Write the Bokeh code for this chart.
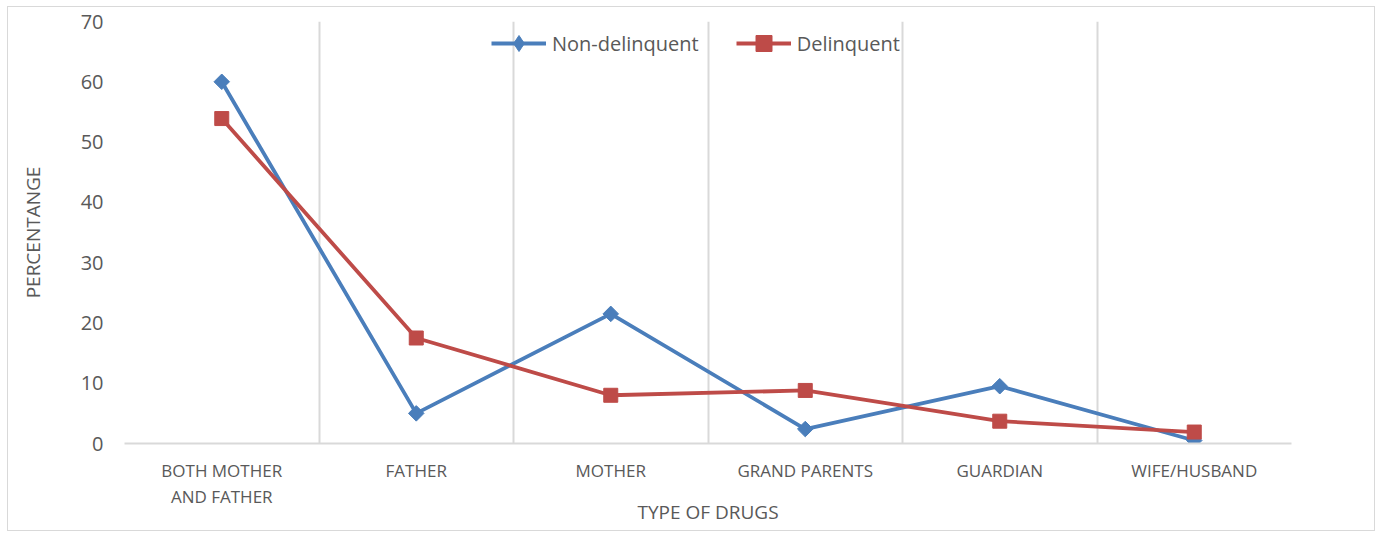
import math
from bokeh.plotting import figure
from bokeh.models import FixedTicker, Legend, LegendItem, ColumnDataSource, LinearAxis
from bokeh.embed import file_html
from bokeh.resources import INLINE

categories = ["BOTH MOTHER", "FATHER", "MOTHER", "GRAND PARENTS", "GUARDIAN", "WIFE/HUSBAND"]
categories_line2 = ["AND FATHER", "", "", "", "", ""]
non_delinquent = [60.0, 5.0, 21.5, 2.4, 9.5, 0.5]
delinquent = [53.9, 17.5, 8.0, 8.8, 3.7, 1.9]
y_ticks = [0, 10, 20, 30, 40, 50, 60, 70]

xs = [i + 0.5 for i in range(len(categories))]
FONT = "Open Sans"
TXT = "#595959"
GRID = "#d9d9d9"
BLUE = "#4a7ebb"
RED = "#be4b48"

p = figure(width=1368, height=525, output_backend="svg", toolbar_location=None,
           x_range=(0, len(categories)), y_range=(0, 70),
           x_axis_location=None,
           min_border_left=116, min_border_top=14, min_border_right=85, min_border_bottom=89)
p.styles = {"border": "1px solid #d9d9d9"}
p.margin = (6, 0, 0, 7)
p.outline_line_color = None
p.background_fill_color = "white"

src = ColumnDataSource(dict(x=xs, nd=non_delinquent, d=delinquent))
empty = ColumnDataSource(dict(x=[float("nan")], y=[float("nan")]))

l1 = p.line("x", "nd", source=src, line_color=BLUE, line_width=3.8)
m1 = p.scatter("x", "nd", source=src, marker="square", angle=math.pi / 4, size=11,
               fill_color=BLUE, line_color=BLUE)
l2 = p.line("x", "d", source=src, line_color=RED, line_width=3.8)
m2 = p.scatter("x", "d", source=src, marker="square", size=14, fill_color=RED, line_color=RED)
# legend-only markers
lg1 = p.scatter("x", "y", source=empty, marker="diamond", size=17, fill_color=BLUE, line_color=BLUE)
lg2 = p.scatter("x", "y", source=empty, marker="square", size=14, fill_color=RED, line_color=RED)

# x axes (two label rows)
ax1 = LinearAxis(ticker=FixedTicker(ticks=xs),
                 major_label_overrides={x: c for x, c in zip(xs, categories)})
ax2 = LinearAxis(ticker=FixedTicker(ticks=xs),
                 major_label_overrides={x: c for x, c in zip(xs, categories_line2)})
for ax in (ax1, ax2):
    ax.major_tick_line_color = None
    ax.minor_tick_line_color = None
    ax.major_tick_out = 0
    ax.minor_tick_out = 0
    ax.major_label_text_font = FONT
    ax.major_label_text_font_size = "17px"
    ax.major_label_text_color = TXT
ax1.axis_line_color = GRID
ax1.axis_line_width = 2
ax1.major_label_standoff = 15
ax2.axis_line_color = None
ax2.major_label_standoff = 0
ax2.axis_label = "TYPE OF DRUGS"
ax2.axis_label_text_font = FONT
ax2.axis_label_text_font_size = "19px"
ax2.axis_label_text_font_style = "normal"
ax2.axis_label_text_color = TXT
ax2.axis_label_standoff = -12
p.add_layout(ax1, "below")
p.add_layout(ax2, "below")

p.yaxis.ticker = FixedTicker(ticks=y_ticks)
p.yaxis.axis_line_color = None
p.yaxis.major_tick_line_color = None
p.yaxis.minor_tick_line_color = None
p.yaxis.major_tick_out = 0
p.yaxis.major_label_text_font = FONT
p.yaxis.major_label_text_font_size = "20px"
p.yaxis.major_label_text_color = TXT
p.yaxis.major_label_standoff = 21
p.yaxis.axis_label = "PERCENTANGE"
p.yaxis.axis_label_text_font = FONT
p.yaxis.axis_label_text_font_size = "19px"
p.yaxis.axis_label_text_font_style = "normal"
p.yaxis.axis_label_text_color = TXT
p.yaxis.axis_label_standoff = 32

p.ygrid.grid_line_color = None
p.xgrid.ticker = FixedTicker(ticks=list(range(len(categories) + 1)))
p.xgrid.grid_line_color = GRID
p.xgrid.grid_line_width = 2

legend = Legend(items=[LegendItem(label="Non-delinquent", renderers=[l1, lg1]),
                       LegendItem(label="Delinquent", renderers=[l2, lg2])],
                orientation="horizontal", location=(367, 380))
legend.background_fill_alpha = 0
legend.border_line_color = None
legend.label_text_font = FONT
legend.label_text_font_size = "20px"
legend.label_text_color = TXT
legend.glyph_width = 55
legend.glyph_height = 40
legend.label_standoff = 6
legend.spacing = 37
legend.margin = 0
legend.padding = 4
p.add_layout(legend, "center")

open("out.html", "w").write(file_html(p, INLINE))
